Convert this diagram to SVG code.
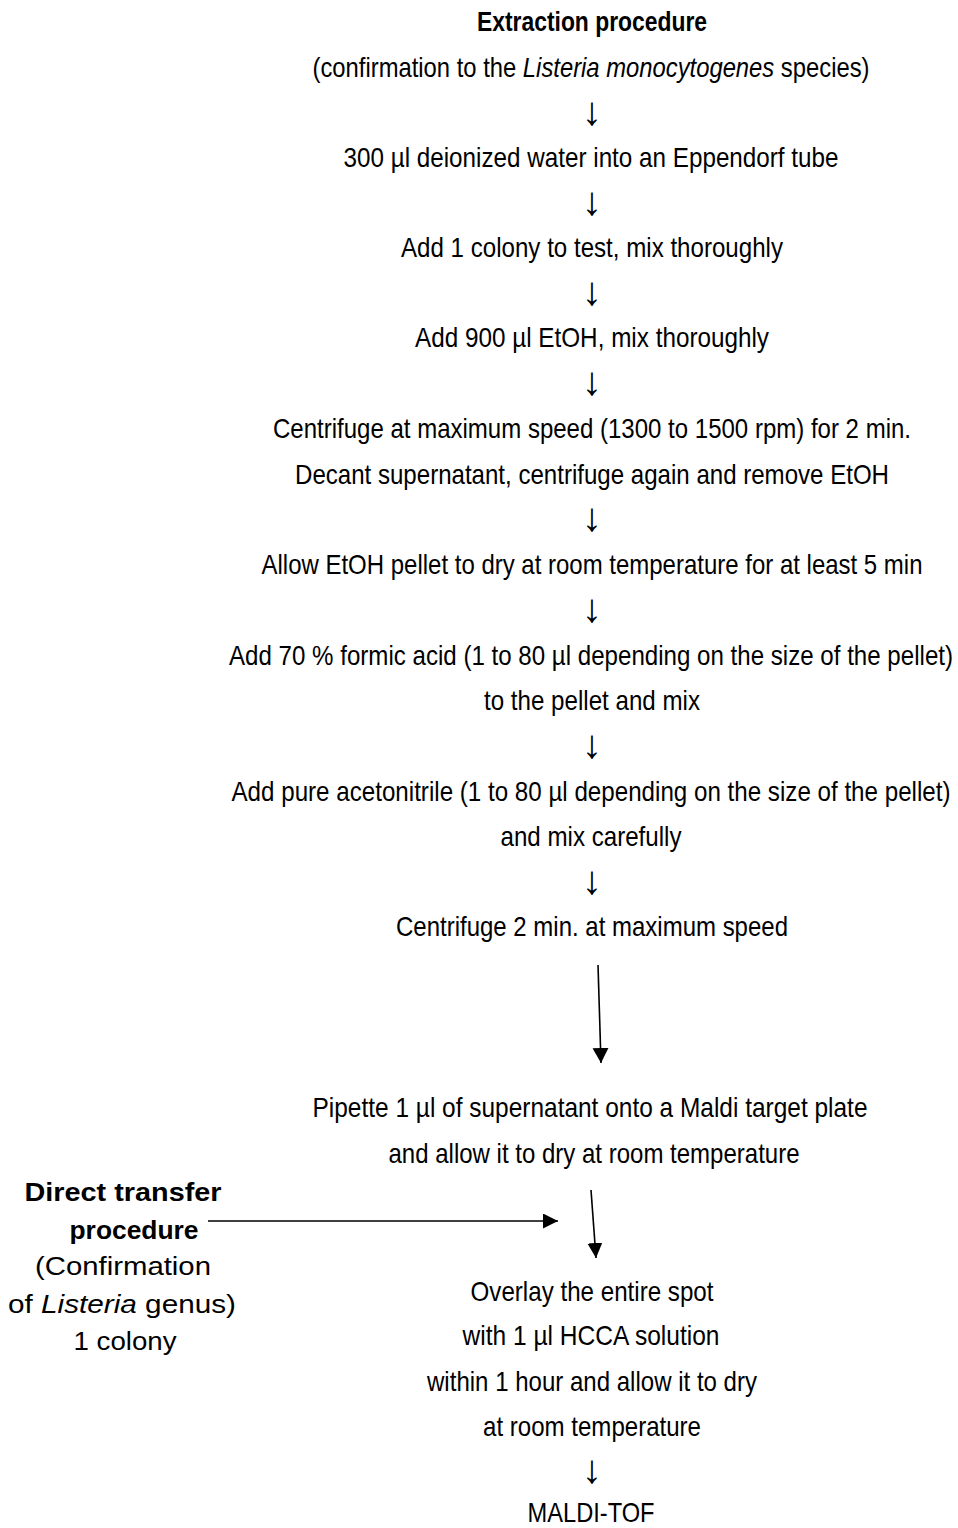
<svg xmlns="http://www.w3.org/2000/svg" width="958" height="1528" viewBox="0 0 958 1528">
<style>
.t{font-family:"Liberation Sans",Arial,sans-serif;font-size:23px;fill:#000;text-anchor:middle}
.s{text-anchor:start}
.i{font-style:italic}
.b{font-weight:bold}
.a{font-family:"Liberation Sans",Arial,sans-serif;font-size:40px;fill:#000;text-anchor:middle}
.l{font-family:"Liberation Sans",Arial,sans-serif;font-size:26px;fill:#000;text-anchor:middle}
.c{stroke:#000;stroke-width:1.6;fill:none}
</style>
<defs>
<marker id="ah" markerUnits="userSpaceOnUse" markerWidth="16" markerHeight="18" refX="15" refY="8" orient="auto">
<path d="M0,0 L15,8 L0,16 Z" fill="#000"/>
</marker>
<marker id="ah2" markerUnits="userSpaceOnUse" markerWidth="16" markerHeight="16" refX="15" refY="7.5" orient="auto">
<path d="M0,0 L15,7.5 L0,15 Z" fill="#000"/>
</marker>
</defs>
<g id="n-title">
<text class="t b" transform="translate(592,31) scale(1,1.2)" textLength="230" lengthAdjust="spacingAndGlyphs">Extraction procedure</text>
<text class="t" transform="translate(591,77) scale(1,1.2)" textLength="557" lengthAdjust="spacingAndGlyphs">(confirmation to the <tspan class="i">Listeria monocytogenes</tspan> species)</text>
</g>
<g id="n-arrows-text">
<text class="a" x="592" y="125">↓</text>
<text class="a" x="592" y="215">↓</text>
<text class="a" x="592" y="305">↓</text>
<text class="a" x="592" y="395">↓</text>
<text class="a" x="592" y="531">↓</text>
<text class="a" x="592" y="622">↓</text>
<text class="a" x="592" y="758">↓</text>
<text class="a" x="592" y="894">↓</text>
<text class="a" x="592" y="1483">↓</text>
</g>
<g id="n1"><text class="t" transform="translate(591,167) scale(1,1.2)" textLength="495" lengthAdjust="spacingAndGlyphs">300 µl deionized water into an Eppendorf tube</text></g>
<g id="n2"><text class="t" transform="translate(592,257) scale(1,1.2)" textLength="382" lengthAdjust="spacingAndGlyphs">Add 1 colony to test, mix thoroughly</text></g>
<g id="n3"><text class="t" transform="translate(592,347) scale(1,1.2)" textLength="354" lengthAdjust="spacingAndGlyphs">Add 900 µl EtOH, mix thoroughly</text></g>
<g id="n4">
<text class="t" transform="translate(592,438) scale(1,1.2)" textLength="638" lengthAdjust="spacingAndGlyphs">Centrifuge at maximum speed (1300 to 1500 rpm) for 2 min.</text>
<text class="t" transform="translate(592,484) scale(1,1.2)" textLength="594" lengthAdjust="spacingAndGlyphs">Decant supernatant, centrifuge again and remove EtOH</text>
</g>
<g id="n5"><text class="t" transform="translate(592,574) scale(1,1.2)" textLength="661" lengthAdjust="spacingAndGlyphs">Allow EtOH pellet to dry at room temperature for at least 5 min</text></g>
<g id="n6">
<text class="t" transform="translate(591,665) scale(1,1.2)" textLength="724" lengthAdjust="spacingAndGlyphs">Add 70 % formic acid (1 to 80 µl depending on the size of the pellet)</text>
<text class="t" transform="translate(592,710) scale(1,1.2)" textLength="216" lengthAdjust="spacingAndGlyphs">to the pellet and mix</text>
</g>
<g id="n7">
<text class="t" transform="translate(591,801) scale(1,1.2)" textLength="719" lengthAdjust="spacingAndGlyphs">Add pure acetonitrile (1 to 80 µl depending on the size of the pellet)</text>
<text class="t" transform="translate(591,846) scale(1,1.2)" textLength="181" lengthAdjust="spacingAndGlyphs">and mix carefully</text>
</g>
<g id="n8"><text class="t" transform="translate(592,936) scale(1,1.2)" textLength="392" lengthAdjust="spacingAndGlyphs">Centrifuge 2 min. at maximum speed</text></g>
<g id="n9">
<text class="t" transform="translate(590,1117) scale(1,1.2)" textLength="555" lengthAdjust="spacingAndGlyphs">Pipette 1 µl of supernatant onto a Maldi target plate</text>
<text class="t" transform="translate(594,1163) scale(1,1.2)" textLength="411" lengthAdjust="spacingAndGlyphs">and allow it to dry at room temperature</text>
</g>
<g id="n-direct">
<text class="l b" x="123" y="1201" textLength="197" lengthAdjust="spacingAndGlyphs">Direct transfer</text>
<text class="l b" x="134" y="1239" textLength="129" lengthAdjust="spacingAndGlyphs">procedure</text>
<text class="l" x="123" y="1275" textLength="176" lengthAdjust="spacingAndGlyphs">(Confirmation</text>
<text class="l" x="122" y="1313" textLength="228" lengthAdjust="spacingAndGlyphs">of <tspan class="i">Listeria</tspan> genus)</text>
<text class="l" x="125" y="1350" textLength="103" lengthAdjust="spacingAndGlyphs">1 colony</text>
</g>
<g id="n10">
<text class="t" transform="translate(592,1301) scale(1,1.2)" textLength="243" lengthAdjust="spacingAndGlyphs">Overlay the entire spot</text>
<text class="t" transform="translate(591,1345) scale(1,1.2)" textLength="257" lengthAdjust="spacingAndGlyphs">with 1 µl HCCA solution</text>
<text class="t" transform="translate(592,1391) scale(1,1.2)" textLength="330" lengthAdjust="spacingAndGlyphs">within 1 hour and allow it to dry</text>
<text class="t" transform="translate(592,1436) scale(1,1.2)" textLength="218" lengthAdjust="spacingAndGlyphs">at room temperature</text>
</g>
<g id="n11"><text class="t" transform="translate(591,1522) scale(1,1.2)" textLength="127" lengthAdjust="spacingAndGlyphs">MALDI-TOF</text></g>
<g id="connectors">
<line class="c" x1="598" y1="965" x2="601" y2="1063" marker-end="url(#ah)"/>
<line class="c" x1="208" y1="1221" x2="558" y2="1221" marker-end="url(#ah2)"/>
<line class="c" x1="591" y1="1190" x2="596" y2="1258" marker-end="url(#ah2)"/>
</g>
</svg>
